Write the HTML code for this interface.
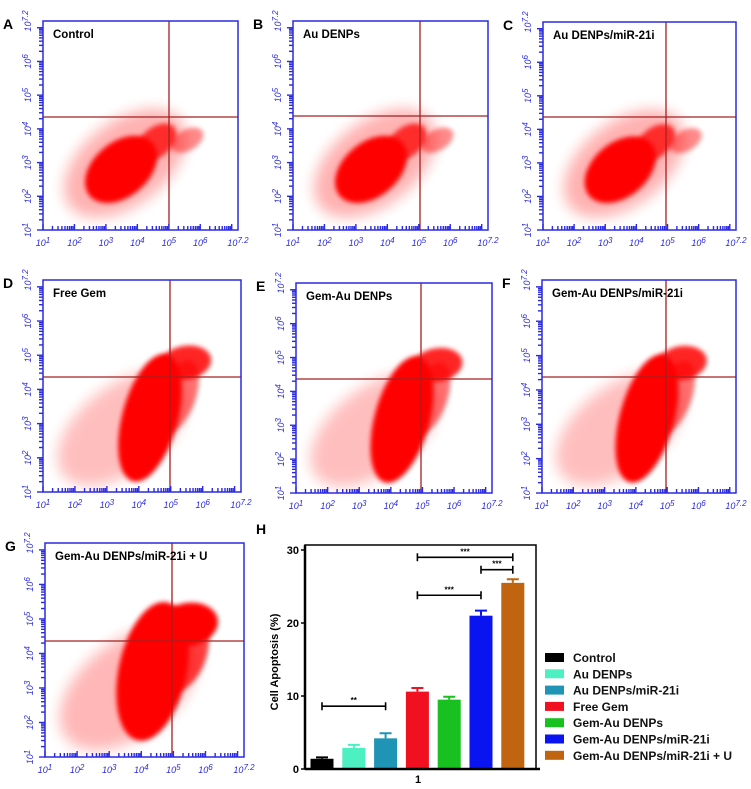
<!DOCTYPE html>
<html><head><meta charset="utf-8"><style>
html,body{margin:0;padding:0;background:#fff;}
svg{display:block;font-family:"Liberation Sans",sans-serif;}
</style></head><body>
<svg id="fig" width="751" height="789" viewBox="0 0 751 789" xmlns="http://www.w3.org/2000/svg">
<defs>
<filter id="blur3" x="-50%" y="-50%" width="200%" height="200%"><feGaussianBlur stdDeviation="2.5"/></filter>
<filter id="blur8" x="-50%" y="-50%" width="200%" height="200%"><feGaussianBlur stdDeviation="7"/></filter>
</defs>
<g id="panels"></g>
<g id="barchart"></g>
</svg>
<script>
const NS='http://www.w3.org/2000/svg';
function mk(tag,attrs,parent){const e=document.createElementNS(NS,tag);for(const k in attrs)e.setAttribute(k,attrs[k]);parent.appendChild(e);return e;}

// ---- flow cytometry panels ----
const panelLetters=['A','B','C','D','E','F','G'];
const panelTitles=['Control','Au DENPs','Au DENPs/miR-21i','Free Gem','Gem-Au DENPs','Gem-Au DENPs/miR-21i','Gem-Au DENPs/miR-21i + U'];
const boxes=[[43,21,238,230],[293,21,488,230],[543,22,736,230],[43,280,241,492],[296,283,492,493],[542,280,736,493],[45,543,244,757]];
const crosses=[[169,117],[420,116],[666,117],[170,377],[421,379],[666,377],[172,641]];
// clouds in box-fraction coords: [fx,fy,rx,ry,rot,opacity,filter]
const cloudsRow1=[[0.42,0.68,0.36,0.20,-38,0.3,'blur8'],[0.40,0.71,0.21,0.13,-40,1,'blur3'],[0.58,0.58,0.12,0.07,-40,0.75,'blur3'],[0.74,0.57,0.09,0.05,-30,0.45,'blur3']];
const cloudsRow2=[[0.40,0.70,0.38,0.20,-38,0.25,'blur8'],[0.54,0.65,0.14,0.31,15,1,'blur3'],[0.72,0.39,0.13,0.08,-10,0.85,'blur3'],[0.68,0.55,0.09,0.18,20,0.55,'blur3']];
const cloudsG=[[0.42,0.68,0.40,0.22,-38,0.28,'blur8'],[0.54,0.60,0.17,0.33,12,1,'blur3'],[0.72,0.38,0.15,0.10,-10,1,'blur3'],[0.70,0.52,0.11,0.18,20,0.75,'blur3']];
const panelClouds=[cloudsRow1,cloudsRow1,cloudsRow1,cloudsRow2,cloudsRow2,cloudsRow2,cloudsG];
const decades=[1,2,3,4,5,6,7.2];
const blue='#2a2ae0';
const pg=document.getElementById('panels');
function tickText(parent,attrs,exp){
  const t=mk('text',attrs,parent);
  const a=mk('tspan',{},t);a.textContent='10';
  const b=mk('tspan',{dy:-3,'font-size':'8'},t);b.textContent=exp;
  return t;
}
boxes.forEach((b,i)=>{
  const g=mk('g',{},pg);
  
  
  const [x0,y0,x1,y1]=b,w=x1-x0,h=y1-y0;
  const lt=mk('text',{x:x0-40,y:y0+8,'font-size':'14','font-weight':'bold',fill:'#000'},g);
  lt.textContent=panelLetters[i];
  
  const cl=mk('g',{},g);
  
  panelClouds[i].forEach(c=>{
    const cx=x0+c[0]*w,cy=y0+c[1]*h;
    mk('ellipse',{cx:cx,cy:cy,rx:c[2]*w,ry:c[3]*h,fill:'#f00',opacity:c[5],filter:'url(#'+c[6]+')',transform:`rotate(${c[4]} ${cx} ${cy})`},cl);
  });
  const [vx,hy]=crosses[i];
  const v=mk('line',{x1:vx,y1:y0,x2:vx,y2:y1,stroke:'#a32020','stroke-width':1.3},g);
  
  const hl=mk('line',{x1:x0,y1:hy,x2:x1,y2:hy,stroke:'#a32020','stroke-width':1.3},g);
  
  const r=mk('rect',{x:x0,y:y0,width:w,height:h,fill:'none',stroke:blue,'stroke-width':1.5},g);
  
  const span=6.2;
  for(let d=1;d<7.2;d++){
    for(let k=1;k<=9;k++){
      const lv=d-1+Math.log10(k); if(lv>6.2)break;
      const len=k==1?6:4;
      const tx=x0+lv/span*w, ty=y1-lv/span*h;
      mk('line',{x1:tx,y1:y1,x2:tx,y2:y1-len,stroke:blue,'stroke-width':1.4},g);
      mk('line',{x1:x0,y1:ty,x2:x0-len,y2:ty,stroke:blue,'stroke-width':1.4},g);
    }
  }
  decades.forEach(dv=>{
    const lv=dv-1;
    const tx=x0+lv/span*w, ty=y1-lv/span*h;
    const t=tickText(g,{x:tx,y:y1+16,'font-size':'9','font-style':'italic',fill:blue,'text-anchor':'middle'},dv==7.2?'7.2':String(dv));
    
    const t2=tickText(g,{x:0,y:0,'font-size':'9','font-style':'italic',fill:blue,'text-anchor':'middle',transform:`translate(${x0-12},${ty}) rotate(-90)`},dv==7.2?'7.2':String(dv));
    
  });
  const tt=mk('text',{x:x0+10,y:y0+17,'font-size':'11.5','font-weight':'bold',fill:'#000'},g);
  tt.textContent=panelTitles[i];
  
});

// ---- bar chart H ----
const categories=['Control','Au DENPs','Au DENPs/miR-21i','Free Gem','Gem-Au DENPs','Gem-Au DENPs/miR-21i','Gem-Au DENPs/miR-21i + U'];
const values=[1.4,2.9,4.2,10.6,9.5,21.0,25.5];
const errors=[0.2,0.4,0.7,0.5,0.4,0.7,0.5];
const colors=['#000000','#4df0c0','#1f94b4','#f01020','#18c020','#0a14f0','#c06410'];
const yTicks=[0,10,20,30];
const sigPairs=[[0,2,8.6,'**'],[3,5,23.8,'***'],[3,6,29.0,'***'],[5,6,27.3,'***']];
const bc=document.getElementById('barchart');
const PX0=305,PX1=536,PY0=769,PY1=545,yMax=30,yTop=550;
const ys=v=>PY0-(v/yMax)*(PY0-yTop);
const barW=23,bar0=322,barStep=31.8;
const xs=i=>bar0+i*barStep;
const hT=mk('text',{x:256,y:534,'font-size':'14','font-weight':'bold'},bc);hT.textContent='H';

values.forEach((v,i)=>{
  const cx=xs(i);
  const r=mk('rect',{x:cx-barW/2,y:ys(v),width:barW,height:PY0-ys(v),fill:colors[i]},bc);
  
  
  const e=mk('path',{d:`M${cx},${ys(v)} V${ys(v+errors[i])} M${cx-6},${ys(v+errors[i])} H${cx+6}`,stroke:colors[i],'stroke-width':2,fill:'none'},bc);
  
});
const fr=mk('rect',{x:PX0,y:PY1,width:PX1-PX0,height:PY0-PY1,fill:'none',stroke:'#000','stroke-width':1.5},bc);

mk('line',{x1:PX0,y1:PY1,x2:PX0,y2:PY0,stroke:'#000','stroke-width':2.5},bc);
mk('line',{x1:PX0,y1:PY0,x2:PX1+4,y2:PY0,stroke:'#000','stroke-width':2.5},bc);
yTicks.forEach(t=>{
  mk('line',{x1:PX0-4,y1:ys(t),x2:PX0,y2:ys(t),stroke:'#000','stroke-width':1.5},bc);
  const tl=mk('text',{x:PX0-6,y:ys(t)+4,'font-size':'11','font-weight':'bold','text-anchor':'end'},bc);
  tl.textContent=t;
});
const yt=mk('text',{x:0,y:0,'font-size':'11','font-weight':'bold','text-anchor':'middle',transform:'translate(278,662) rotate(-90)'},bc);
yt.textContent='Cell Apoptosis (%)';
const xl=mk('text',{x:418,y:783,'font-size':'11','font-weight':'bold','text-anchor':'middle'},bc);
xl.textContent='1';
sigPairs.forEach(s=>{
  const xa=xs(s[0]),xb=xs(s[1]),y=ys(s[2]);
  const p=mk('path',{d:`M${xa},${y-4} V${y+4} M${xa},${y} H${xb} M${xb},${y-4} V${y+4}`,stroke:'#000','stroke-width':1.6,fill:'none'},bc);
  
  const st=mk('text',{x:(xa+xb)/2,y:y-3,'font-size':'8','font-weight':'bold','text-anchor':'middle'},bc);
  st.textContent=s[3];
});
categories.forEach((c,i)=>{
  const g=mk('g',{},bc);
  
  const y=658+i*16.3;
  mk('rect',{x:545,y:y-5,width:19,height:9,fill:colors[i]},g);
  const t=mk('text',{x:573,y:y+4,'font-size':'12','font-weight':'bold',fill:'#111'},g);
  t.textContent=c;
});
</script>
</body></html>
